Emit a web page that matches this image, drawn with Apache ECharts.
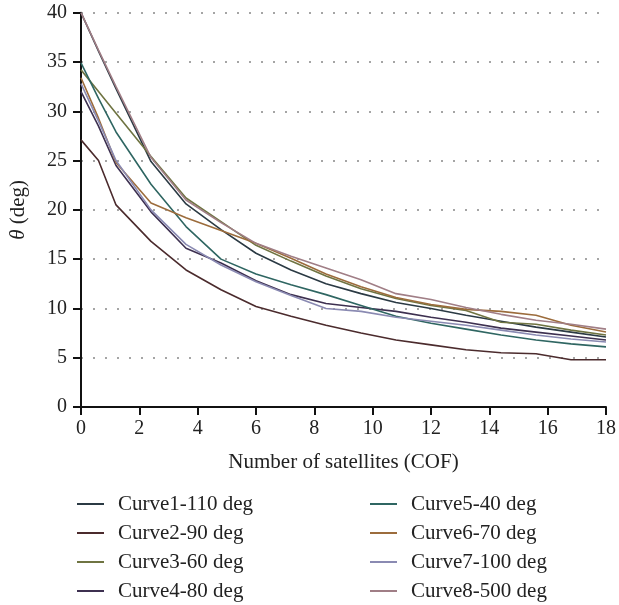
<!DOCTYPE html>
<html>
<head>
<meta charset="utf-8">
<script src="https://cdn.jsdelivr.net/npm/echarts@6/dist/echarts.min.js"></script>
<style>
  html, body { margin: 0; padding: 0; background: #fff; }
  #chart { width: 619px; height: 605px; }
</style>
</head>
<body>
<div id="chart"></div>
<script>
// x positions (number of satellites) where the curves were read
const satellites = [0, 0.6, 1.2, 2.4, 3.6, 4.8, 6, 7.2, 8.4, 9.6, 10.8, 12, 13.2, 14.4, 15.6, 16.8, 18]

const curveNames = ['Curve1-110 deg', 'Curve2-90 deg', 'Curve3-60 deg', 'Curve4-80 deg',
    'Curve5-40 deg', 'Curve6-70 deg', 'Curve7-100 deg', 'Curve8-500 deg']

const curve1 = [40, 36.1, 32.3, 24.9, 20.6, 18.0, 15.6, 13.9, 12.5, 11.5, 10.6, 10.0, 9.3, 8.7, 8.1, 7.6, 7.1]
const curve2 = [27.1, 25.0, 20.5, 16.8, 13.9, 11.9, 10.2, 9.2, 8.3, 7.5, 6.8, 6.3, 5.8, 5.5, 5.4, 4.8, 4.8]
const curve3 = [34.2, 32.0, 29.8, 25.4, 21.2, 18.8, 16.4, 14.8, 13.3, 12.0, 11.0, 10.3, 9.8, 8.6, 8.4, 7.8, 7.3]
const curve4 = [32.0, 28.5, 24.5, 19.8, 16.1, 14.6, 12.8, 11.4, 10.5, 10.1, 9.7, 9.1, 8.6, 8.0, 7.6, 7.2, 6.8]
const curve5 = [34.9, 31.3, 27.9, 22.6, 18.3, 15.0, 13.5, 12.4, 11.4, 10.3, 9.2, 8.5, 7.9, 7.3, 6.8, 6.4, 6.1]
const curve6 = [33.4, 29.3, 24.8, 20.7, 19.2, 17.9, 16.6, 15.1, 13.5, 12.2, 11.1, 10.4, 9.9, 9.7, 9.3, 8.3, 7.6]
const curve7 = [32.8, 29.0, 25.0, 20.0, 16.5, 14.4, 12.7, 11.3, 10.0, 9.7, 9.1, 8.7, 8.3, 7.8, 7.3, 6.9, 6.6]
const curve8 = [40, 36.2, 32.5, 25.3, 21.0, 18.7, 16.6, 15.3, 14.1, 12.9, 11.5, 10.9, 10.1, 9.4, 8.8, 8.4, 7.9]

const curveValues = [curve1, curve2, curve3, curve4, curve5, curve6, curve7, curve8]
const curveColors = ['#2b3a44', '#4b2b2d', '#6f7442', '#3d3050', '#2f6662', '#9c6c3c', '#8a8ab2', '#a07e86']

const yTicks = [0, 5, 10, 15, 20, 25, 30, 35, 40]

const FONT = 'Liberation Serif'

const series = curveNames.map(function (name, i) {
    return {
        name: name,
        type: 'line',
        showSymbol: false,
        symbol: 'none',
        data: satellites.map(function (x, j) {
            return [x, curveValues[i][j]]
        }),
        lineStyle: {width: 1.6, color: curveColors[i]},
        itemStyle: {color: curveColors[i]},
        z: 2 + i
    }
})

// 图例分两列
function legendBlock(names, left) {
    return {
        orient: 'vertical',
        left: left,
        top: 493,
        padding: 0,
        data: names,
        icon: 'rect',
        itemWidth: 27,
        itemHeight: 2,
        itemGap: 7,
        textStyle: {fontFamily: FONT, fontSize: 21, color: '#222', lineHeight: 22, padding: [0, 0, 0, 9]}
    }
}

const option = {
    animation: false,
    backgroundColor: '#fff',
    grid: {left: 78, right: 6, top: 12.7, bottom: 198},
    legend: [legendBlock(curveNames.slice(0, 4), 77), legendBlock(curveNames.slice(4), 370)],
    xAxis: {
        type: 'value',
        min: 0,
        max: 18,
        interval: 2,
        name: 'Number of satellites (COF)',
        nameLocation: 'middle',
        nameGap: 45,
        nameTextStyle: {fontFamily: FONT, fontSize: 21, color: '#222'},
        axisLine: {lineStyle: {color: '#111', width: 2}},
        axisTick: {show: true, length: 8, lineStyle: {color: '#111', width: 2}},
        axisLabel: {fontFamily: FONT, fontSize: 20, color: '#222', margin: 12},
        splitLine: {show: false}
    },
    yAxis: {
        type: 'value',
        min: yTicks[0],
        max: yTicks[yTicks.length - 1],
        interval: 5,
        name: '{i|θ} (deg)',
        nameLocation: 'middle',
        nameGap: 52,
        nameRotate: 90,
        nameTextStyle: {
            fontFamily: FONT, fontSize: 21, color: '#222',
            rich: {i: {fontFamily: FONT, fontSize: 21, fontStyle: 'italic', color: '#222'}}
        },
        axisLine: {show: true, lineStyle: {color: '#111', width: 2}},
        axisTick: {show: true, length: 8, lineStyle: {color: '#111', width: 2}},
        axisLabel: {fontFamily: FONT, fontSize: 20, color: '#222', margin: 14},
        splitLine: {show: true, lineStyle: {color: '#888', width: 1.5, type: [2, 10]}}
    },
    series: series
}

const chart = echarts.init(document.getElementById('chart'))
chart.setOption(option)
</script>
</body>
</html>
